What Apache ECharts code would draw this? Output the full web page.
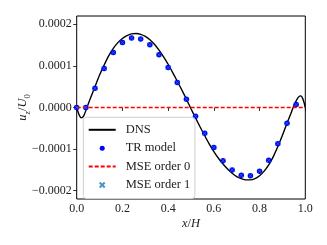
<!DOCTYPE html>
<html>
<head>
<meta charset="utf-8">
<script src="https://cdn.jsdelivr.net/npm/echarts@6/dist/echarts.min.js"></script>
<style>html,body{margin:0;padding:0;background:#fff}#c{width:327px;height:245px}</style>
</head>
<body>
<div id="c"></div>
<script>
// DNS curve (x/H, u_z/U_0)
const dnsX = [0.00,0.01,0.02,0.03,0.04,0.05,0.06,0.08,0.10,0.12,0.14,0.16,0.18,0.20,0.22,0.24,0.26,0.28,0.30,0.32,0.34,0.36,0.38,0.40,0.42,0.44,0.46,0.48,0.50,0.52,0.54,0.56,0.58,0.60,0.62,0.64,0.66,0.68,0.70,0.72,0.74,0.76,0.78,0.80,0.82,0.84,0.86,0.88,0.90,0.92,0.94,0.95,0.96,0.97,0.98,0.99,1.00];
const dnsY = [0,-0.17e-4,-0.25e-4,-0.21e-4,-0.07e-4,0.08e-4,0.22e-4,0.50e-4,0.78e-4,1.02e-4,1.24e-4,1.42e-4,1.56e-4,1.66e-4,1.73e-4,1.77e-4,1.78e-4,1.76e-4,1.71e-4,1.63e-4,1.52e-4,1.38e-4,1.22e-4,1.04e-4,0.84e-4,0.63e-4,0.42e-4,0.20e-4,-0.03e-4,-0.25e-4,-0.47e-4,-0.68e-4,-0.88e-4,-1.06e-4,-1.22e-4,-1.36e-4,-1.48e-4,-1.58e-4,-1.66e-4,-1.71e-4,-1.74e-4,-1.74e-4,-1.71e-4,-1.64e-4,-1.53e-4,-1.38e-4,-1.18e-4,-0.94e-4,-0.67e-4,-0.38e-4,-0.10e-4,0.04e-4,0.16e-4,0.25e-4,0.28e-4,0.20e-4,0];
// TR model points
const trX = [0.00,0.04,0.08,0.12,0.16,0.20,0.24,0.28,0.32,0.36,0.40,0.44,0.48,0.52,0.56,0.60,0.64,0.68,0.72,0.76,0.80,0.84,0.88,0.92,0.96];
const trY = [0,0,0.46e-4,0.94e-4,1.32e-4,1.56e-4,1.67e-4,1.65e-4,1.51e-4,1.27e-4,0.96e-4,0.60e-4,0.20e-4,-0.21e-4,-0.62e-4,-0.96e-4,-1.28e-4,-1.50e-4,-1.63e-4,-1.64e-4,-1.53e-4,-1.27e-4,-0.87e-4,-0.38e-4,0.07e-4];
// MSE order 0
const mse0X = [0, 1];
const mse0Y = [0, 0];
// MSE order 1 (overlaps TR model)
const mse1X = [0.00,0.04,0.08,0.12,0.16,0.20,0.24,0.28,0.32,0.36,0.40,0.44,0.48,0.52,0.56,0.60,0.64,0.68,0.72,0.76,0.80,0.84,0.88,0.92,0.96];
const mse1Y = [0,0,0.46e-4,0.94e-4,1.32e-4,1.56e-4,1.67e-4,1.65e-4,1.51e-4,1.27e-4,0.96e-4,0.60e-4,0.20e-4,-0.21e-4,-0.62e-4,-0.96e-4,-1.28e-4,-1.50e-4,-1.63e-4,-1.64e-4,-1.53e-4,-1.27e-4,-0.87e-4,-0.38e-4,0.07e-4];
const seriesNames = ['DNS', 'TR model', 'MSE order 0', 'MSE order 1'];

const zip = (a, b) => a.map((v, i) => [v, b[i]]);
const FONT = 'Liberation Serif';
const chart = echarts.init(document.getElementById('c'));
chart.setOption({
  animation: false,
  grid: { left: 76.7, right: 21.7, top: 16, bottom: 46, outerBoundsMode: 'none', containLabel: false,
    show: true, borderColor: '#000', borderWidth: 1, backgroundColor: 'transparent' },
  xAxis: {
    type: 'value', min: 0, max: 1, interval: 0.2,
    axisLine: { show: false },
    axisTick: { show: true, length: 3.5, lineStyle: { color: '#000', width: 0.8 } },
    splitLine: { show: false },
    axisLabel: { color: '#222', fontFamily: FONT, fontSize: 12, margin: 4, formatter: v => v.toFixed(1) },
    name: '{i|x}{n|/}{i|H}', nameLocation: 'middle', nameGap: 18, nameMoveOverlap: false,
    nameTextStyle: { rich: { i: { fontFamily: FONT, fontStyle: 'italic', fontSize: 12.5, color: '#222' }, n: { fontFamily: FONT, fontSize: 12.5, color: '#222' } } }
  },
  yAxis: {
    type: 'value', min: -0.00022, max: 0.00022, splitNumber: 4,
    axisLine: { show: false },
    axisTick: { show: true, length: 3.5, lineStyle: { color: '#000', width: 0.8 } },
    splitLine: { show: false },
    axisLabel: { color: '#222', fontFamily: FONT, fontSize: 12, margin: 5, showMinLabel: false, showMaxLabel: false,
      formatter: v => { if (Math.abs(v) < 1e-9) return '0.0000'; const s = Math.abs(v).toFixed(4); return v < 0 ? '\u2212' + s : s; } },
    name: '{i|u}{s|z}{n|/}{i|U}{t|0}', nameLocation: 'middle', nameGap: 47, nameMoveOverlap: false,
    nameTextStyle: { rich: {
      i: { fontFamily: FONT, fontStyle: 'italic', fontSize: 12.5, color: '#222', lineHeight: 16, verticalAlign: 'bottom' },
      n: { fontFamily: FONT, fontSize: 12.5, color: '#222', lineHeight: 16, verticalAlign: 'bottom' },
      s: { fontFamily: FONT, fontStyle: 'italic', fontSize: 8.5, color: '#222', lineHeight: 16, verticalAlign: 'bottom', padding: [0,0,-3,0] },
      t: { fontFamily: FONT, fontSize: 8.5, color: '#222', lineHeight: 16, verticalAlign: 'bottom', padding: [0,0,-3,0] }
    } }
  },
  legend: {
    left: 83.3, top: 117.3, orient: 'vertical',
    data: [
      { name: seriesNames[0], itemStyle: { opacity: 0 } },
      { name: seriesNames[1] },
      { name: seriesNames[2], itemStyle: { opacity: 0 } },
      { name: seriesNames[3] }
    ],
    itemWidth: 27, itemHeight: 5, itemGap: 5.4,
    padding: [6, 4.6, 7, 4.4],
    borderColor: '#cfcfcf', borderWidth: 1, borderRadius: 3,
    backgroundColor: 'rgba(255,255,255,0.8)',
    textStyle: { fontFamily: FONT, fontSize: 12.5, color: '#222', lineHeight: 12, padding: [0, 0, 0, 5] },
    selectedMode: false
  },
  series: [
    { name: seriesNames[0], type: 'line', data: zip(dnsX, dnsY), symbol: 'none', smooth: 0.3,
      lineStyle: { color: '#000', width: 1.4 }, itemStyle: { color: '#000' }, z: 2 },
    { name: seriesNames[1], type: 'scatter', data: zip(trX, trY), symbol: 'circle', symbolSize: 5.5,
      itemStyle: { color: '#0000ff', opacity: 1 }, z: 3 },
    { name: seriesNames[2], type: 'line', data: zip(mse0X, mse0Y), symbol: 'none',
      lineStyle: { color: '#ff0000', width: 1.3, type: [4, 2] }, itemStyle: { color: '#ff0000' }, z: 4 },
    { name: seriesNames[3], type: 'scatter', data: zip(mse1X, mse1Y), symbol: 'path://M0,0L10,10M10,0L0,10', symbolSize: 4,
      itemStyle: { color: 'none', borderColor: '#1f77b4', borderWidth: 1 }, z: 5 }
  ]
});
</script>
</body>
</html>
